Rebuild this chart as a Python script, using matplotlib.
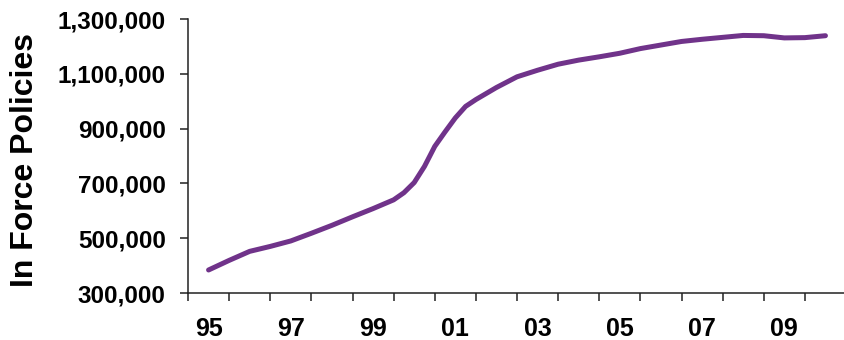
import matplotlib
matplotlib.use('Agg')
import matplotlib.pyplot as plt
from matplotlib.ticker import FuncFormatter, FixedLocator

# in-force policies, half-yearly readings (quarterly through the 2000-01 jump)
years = [1995.0, 1995.5, 1996.0, 1996.5, 1997.0, 1997.5, 1998.0, 1998.5,
         1999.0, 1999.5, 1999.75, 2000.0, 2000.25, 2000.5, 2000.75, 2001.0,
         2001.25, 2001.5, 2002.0, 2002.5, 2003.0, 2003.5, 2004.0, 2004.5,
         2005.0, 2005.5, 2006.0, 2006.5, 2007.0, 2007.5, 2008.0, 2008.5,
         2009.0, 2009.5, 2010.0]
policies = [384000, 419000, 452000, 470000, 490000, 518000, 547000, 578000,
            608000, 640000, 666000, 703000, 762000, 835000, 888000, 939000,
            981000, 1006000, 1050000, 1089000, 1113000, 1135000, 1150000, 1162000,
            1175000, 1192000, 1205000, 1218000, 1226000, 1233000, 1240000, 1239000,
            1231000, 1232000, 1239000]
year_labels = ['95', '97', '99', '01', '03', '05', '07', '09']
y_ticks = [300000, 500000, 700000, 900000, 1100000, 1300000]

FONT = 'Liberation Sans'
LINE_COLOR = '#70338A'
AXIS_COLOR = '#222222'

fig = plt.figure(figsize=(8.44, 3.4), dpi=100)
fig.patch.set_facecolor('white')
ax = fig.add_axes([188/844, 1 - 293/340, 658/844, 274/340])

# each year sits in the middle of its category slot
xpos = [y - 1995 + 0.5 for y in years]
ax.plot(xpos, policies, color=LINE_COLOR, linewidth=3.6,
        solid_capstyle='round', solid_joinstyle='round')

ax.set_xlim(0, 16)
ax.set_ylim(300000, 1300000)

ax.xaxis.set_major_locator(FixedLocator(range(0, 16)))
ax.xaxis.set_major_formatter(FuncFormatter(lambda v, p: ''))
ax.set_xticks([i * 2 + 0.5 for i in range(len(year_labels))], minor=True)
ax.set_xticklabels(year_labels, minor=True)
ax.tick_params(axis='x', which='major', direction='out', length=6, width=1.1,
               color=AXIS_COLOR)
ax.tick_params(axis='x', which='minor', length=0, pad=17)

ax.set_yticks(y_ticks)
ax.yaxis.set_major_formatter(FuncFormatter(lambda v, p: f'{int(v):,}'))
ax.tick_params(axis='y', direction='out', length=6, width=1.1, pad=10,
               color=AXIS_COLOR)

for lbl in ax.get_yticklabels():
    lbl.set_fontfamily(FONT)
    lbl.set_fontweight('bold')
    lbl.set_fontsize(17.5)
for lbl in ax.get_xticklabels(minor=True):
    lbl.set_fontfamily(FONT)
    lbl.set_fontweight('bold')
    lbl.set_fontsize(18)

for side in ['top', 'right']:
    ax.spines[side].set_visible(False)
for side in ['left', 'bottom']:
    ax.spines[side].set_color(AXIS_COLOR)
    ax.spines[side].set_linewidth(1.1)

fig.text(25/844, 1 - 160/340, 'In Force Policies', rotation=90,
         ha='center', va='center', fontsize=23, fontweight='bold',
         fontfamily=FONT, color='black')

fig.savefig('out.png', dpi=100, facecolor='white')
